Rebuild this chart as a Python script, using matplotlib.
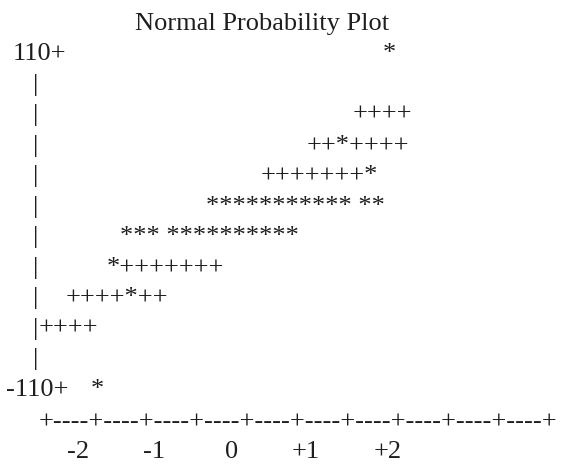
import matplotlib
matplotlib.use("Agg")
import matplotlib.pyplot as plt

# ── data: a character-mode normal probability plot ──
title = "Normal Probability Plot"
y_top_label = "110+"
y_bottom_label = "-110+"
# marks on each text row, top (110) to bottom (-110)
row_marks = ["*", "", "++++", "++*++++", "+++++++*", "*********** **",
             "*** **********", "*+++++++", "++++*++", "++++", "", "*"]
x_tick_labels = ["-2", "-1", "0", "+1", "+2"]
n_axis_segments = 10

# ── layout (pixels, figure is 561x465) ──
W, H = 561, 465
FS = 19
COLOR = "#1e1e1e"
row_base0, row_step = 60, 30.5
row_mark_x = [383, 0, 353, 307, 260.5, 206, 120, 106.5, 65.6, 39, 0, 91]
bar_x = 33.5
axis_x, axis_y = 38.3, 428.5
tick_label_x = [67.3, 143, 224.8, 291.2, 373.6]
tick_label_y = 458.3

plt.rcParams["font.family"] = ["Liberation Serif", "DejaVu Serif"]

fig = plt.figure(figsize=(W / 100, H / 100), dpi=100)
ax = fig.add_axes([0, 0, 1, 1])
ax.set_xlim(0, W)
ax.set_ylim(H, 0)
ax.axis("off")

kw = dict(fontsize=FS, color=COLOR, ha="left", va="baseline")

ax.text(134.7, 30, title, **kw)

for i, marks in enumerate(row_marks):
    y = row_base0 + i * row_step
    if i == 0:
        ax.text(13, y, y_top_label, **kw)
    elif i == len(row_marks) - 1:
        ax.text(6.3, y, y_bottom_label, **kw)
    else:
        ax.text(bar_x, y, "|", **kw)
    if marks:
        ax.text(row_mark_x[i], y, marks, **kw)

ax.text(axis_x, axis_y, "+----" * n_axis_segments + "+", **kw)
for x, lab in zip(tick_label_x, x_tick_labels):
    ax.text(x, tick_label_y, lab, **kw)

fig.savefig("out.png", dpi=100, facecolor="white")
